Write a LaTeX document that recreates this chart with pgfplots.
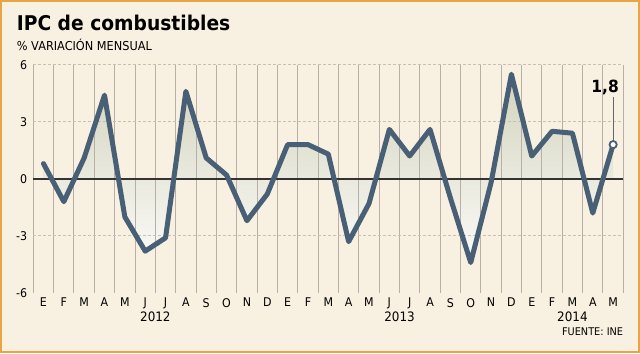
\documentclass[border=0pt]{standalone}
\usepackage{pgfplots}
\pgfplotsset{compat=1.18}
\usepackage{fontspec}
\setmainfont{DejaVu Sans}[FakeStretch=0.92]
\definecolor{cream}{HTML}{F8F1E2}
\definecolor{frame}{HTML}{E7A646}
\definecolor{linec}{HTML}{485F75}
\definecolor{gridv}{HTML}{B8B0A6}
\definecolor{gridh}{HTML}{C8C0B4}
\definecolor{filltop}{HTML}{D3D3BE}
\definecolor{fillbot}{HTML}{FBFBF8}
\pgfplotstableread{
x y
0.5 0.8
1.5 -1.2
2.5 1.1
3.5 4.4
4.5 -2.0
5.5 -3.8
6.5 -3.1
7.5 4.6
8.5 1.1
9.5 0.2
10.5 -2.2
11.5 -0.8
12.5 1.8
13.5 1.8
14.5 1.3
15.5 -3.3
16.5 -1.3
17.5 2.6
18.5 1.2
19.5 2.6
20.5 -1.0
21.5 -4.4
22.5 -0.2
23.5 5.5
24.5 1.2
25.5 2.5
26.5 2.4
27.5 -1.8
28.5 1.8
}\ipc
\begin{document}
\begin{tikzpicture}[x=1bp,y=1bp]
\fill[cream] (0,0) rectangle (640,353);
\draw[frame, line width=2bp] (1,1) rectangle (639,352);
\node[anchor=base west, inner sep=0pt, font=\bfseries\fontsize{20.3bp}{23bp}\selectfont] at (16.7,322.3) {IPC de combustibles};
\node[anchor=base west, inner sep=0pt, font=\fontsize{12.3bp}{14bp}\selectfont] at (16.7,303) {\% VARIACIÓN MENSUAL};
\begin{axis}[
  at={(33.3bp,60bp)}, anchor=south west,
  width=590bp, height=228.3bp, scale only axis,
  xmin=0, xmax=29, ymin=-6, ymax=6,
  axis line style={draw=none},
  clip=false,
  major tick length=0pt,
  xtick={0.5,1.5,...,28.5},
  xticklabels={E,F,M,A,M,J,J,A,S,O,N,D,E,F,M,A,M,J,J,A,S,O,N,D,E,F,M,A,M},
  xticklabel style={anchor=north, inner sep=0pt, yshift=-5bp, font=\fontsize{12bp}{14bp}\selectfont},
  ytick={-6,-3,0,3,6},
  yticklabels={-6,-3,0,3,6},
  yticklabel style={anchor=east, inner sep=0pt, xshift=-6bp, font=\fontsize{12bp}{14bp}\selectfont},
]
\addplot[draw=none, top color=filltop, bottom color=fillbot] table[x=x,y=y] {\ipc} \closedcycle;
\pgfplotsinvokeforeach{0,...,29}{
  \draw[gridv, line width=1bp] (axis cs:#1,-6) -- (axis cs:#1,6);
}
\draw[gridh, line width=1bp, dash pattern=on 3bp off 2bp] (axis cs:0,6) -- (axis cs:29,6);
\draw[gridh, line width=1bp, dash pattern=on 3bp off 2bp] (axis cs:0,3) -- (axis cs:29,3);
\draw[gridh, line width=1bp, dash pattern=on 3bp off 2bp] (axis cs:0,-3) -- (axis cs:29,-3);
\draw[black!80, line width=1.5bp] (axis cs:0,0) -- (axis cs:29,0);
\draw[gridv, line width=1bp] (axis cs:12,-6) -- ++(0,-29bp);
\draw[gridv, line width=1bp] (axis cs:24,-6) -- ++(0,-29bp);
\draw[black!60, line width=0.8bp] (axis cs:28.5,1.8) -- (axis cs:28.5,4.32);
\addplot[linec, line width=5bp, line join=round, line cap=round, mark=none] table[x=x,y=y] {\ipc};
\addplot[linec, only marks, mark=*, mark size=3.6bp, mark options={fill=white, draw=linec, line width=1.8bp}] coordinates {(28.5,1.8)};
\node[anchor=base, inner sep=0pt, font=\bfseries\fontsize{16.8bp}{19bp}\selectfont, xshift=-8bp] at (axis cs:28.5,4.53) {1,8};
\node[anchor=north, inner sep=0pt, font=\fontsize{13bp}{15bp}\selectfont] at ([yshift=-19bp]axis cs:6,-6) {2012};
\node[anchor=north, inner sep=0pt, font=\fontsize{13bp}{15bp}\selectfont] at ([yshift=-19bp]axis cs:18,-6) {2013};
\node[anchor=north, inner sep=0pt, font=\fontsize{13bp}{15bp}\selectfont] at ([yshift=-19bp]axis cs:26.5,-6) {2014};
\node[anchor=east, inner sep=0pt, font=\fontsize{10.6bp}{12bp}\selectfont] at ([yshift=-38.5bp]axis cs:29,-6) {FUENTE: INE};
\end{axis}
\end{tikzpicture}
\end{document}
